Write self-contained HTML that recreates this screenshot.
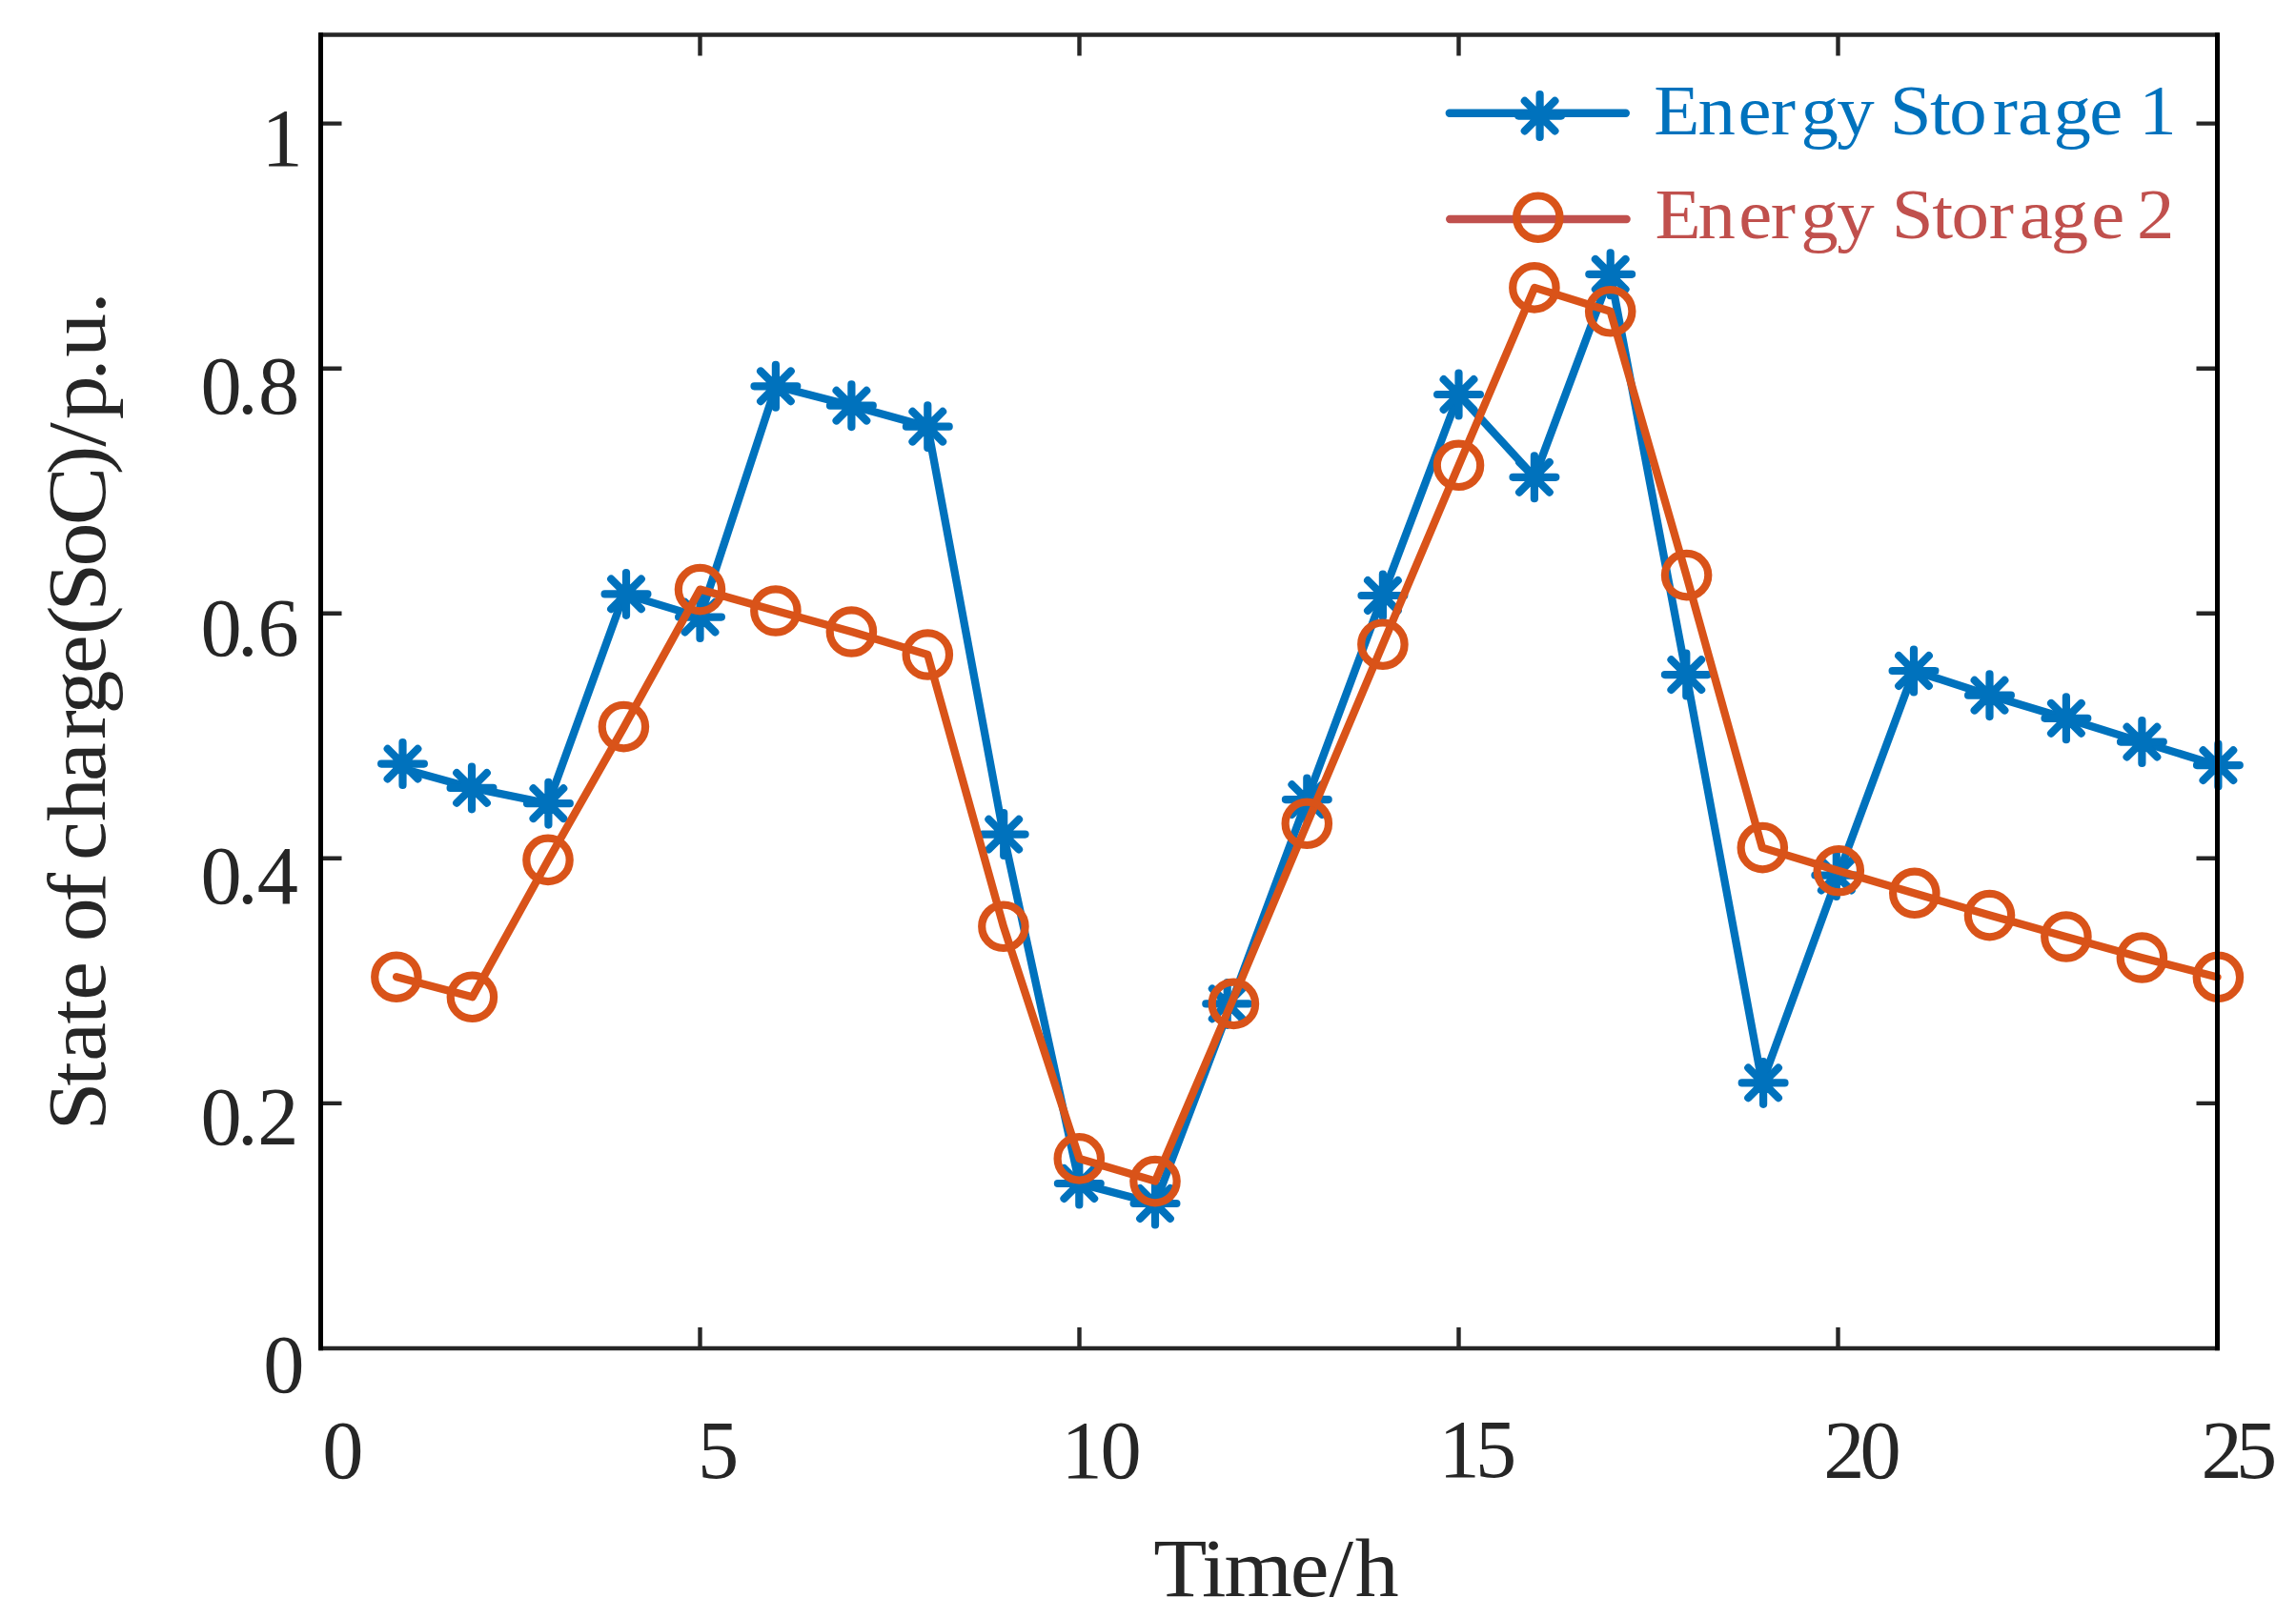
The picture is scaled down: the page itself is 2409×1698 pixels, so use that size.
<!DOCTYPE html>
<html lang="en"><head><meta charset="utf-8"><title>State of charge of energy storage</title>
<style>html,body{margin:0;padding:0;background:#fff}body{width:2409px;height:1698px;overflow:hidden}svg{display:block}text{font-family:"Liberation Serif", serif;fill:#262626}</style></head><body>
<svg width="2409" height="1698" viewBox="0 0 2409 1698">
<rect width="2409" height="1698" fill="#fff"/>
<path d="M734.5 1415V1393M734.5 36.5V58.5M1132.5 1415V1393M1132.5 36.5V58.5M1530.5 1415V1393M1530.5 36.5V58.5M1928.5 1415V1393M1928.5 36.5V58.5M336.5 1157.9H358.5M2326.5 1157.9H2304.5M336.5 900.8H358.5M2326.5 900.8H2304.5M336.5 643.8H358.5M2326.5 643.8H2304.5M336.5 386.7H358.5M2326.5 386.7H2304.5M336.5 129.6H358.5M2326.5 129.6H2304.5" stroke="#262626" stroke-width="4.4" fill="none"/>
<g fill="none" stroke="#0072BD" stroke-linejoin="round" stroke-linecap="round">
<polyline points="416.1,805 495.7,826.9 575.3,843.2 654.9,623.4 734.5,647.6 814.1,405.3 893.7,425.7 973.3,447.7 1052.9,875.6 1132.5,1242 1212.1,1263 1291.7,1053.4 1371.3,839.1 1450.9,625 1530.5,414 1610.1,500.8 1689.7,287.8 1769.3,708.1 1848.9,1136.4 1928.5,918.6 2008.1,704 2087.7,729.7 2167.3,753.8 2246.9,778.6 2326.5,803.1" stroke-width="8.3"/>
<path d="M400.1 801.6H444.9M422.5 779.2V824M406.7 785.8L438.3 817.4M406.7 817.4L438.3 785.8M472.6 826.9H517.4M495 804.5V849.3M479.2 811.1L510.8 842.7M479.2 842.7L510.8 811.1M553 843.2H597.8M575.4 820.8V865.6M559.6 827.4L591.2 859M559.6 859L591.2 827.4M634.6 623.4H679.4M657 601V645.8M641.2 607.6L672.8 639.2M641.2 639.2L672.8 607.6M712.1 647.6H756.9M734.5 625.2V670M718.7 631.8L750.3 663.4M718.7 663.4L750.3 631.8M791.5 405.3H836.3M813.9 382.9V427.7M798.1 389.5L829.7 421.1M798.1 421.1L829.7 389.5M871 425.7H915.8M893.4 403.3V448.1M877.6 409.9L909.2 441.5M877.6 441.5L909.2 409.9M950.9 447.7H995.7M973.3 425.3V470.1M957.5 431.9L989.1 463.5M957.5 463.5L989.1 431.9M1030.8 875.6H1075.6M1053.2 853.2V898M1037.4 859.8L1069 891.4M1037.4 891.4L1069 859.8M1109.9 1242H1154.7M1132.3 1219.6V1264.4M1116.5 1226.2L1148.1 1257.8M1116.5 1257.8L1148.1 1226.2M1189.6 1263H1234.4M1212 1240.6V1285.4M1196.2 1247.2L1227.8 1278.8M1196.2 1278.8L1227.8 1247.2M1265.3 1053.4H1310.1M1287.7 1031V1075.8M1271.9 1037.6L1303.5 1069.2M1271.9 1069.2L1303.5 1037.6M1348.9 839.1H1393.7M1371.3 816.7V861.5M1355.5 823.3L1387.1 854.9M1355.5 854.9L1387.1 823.3M1428.5 625H1473.3M1450.9 602.6V647.4M1435.1 609.2L1466.7 640.8M1435.1 640.8L1466.7 609.2M1508.1 414H1552.9M1530.5 391.6V436.4M1514.7 398.2L1546.3 429.8M1514.7 429.8L1546.3 398.2M1587.5 500.8H1632.3M1609.9 478.4V523.2M1594.1 485L1625.7 516.6M1594.1 516.6L1625.7 485M1667.3 287.8H1712.1M1689.7 265.4V310.2M1673.9 272L1705.5 303.6M1673.9 303.6L1705.5 272M1746.9 708.1H1791.7M1769.3 685.7V730.5M1753.5 692.3L1785.1 723.9M1753.5 723.9L1785.1 692.3M1827.7 1136.4H1872.5M1850.1 1114V1158.8M1834.3 1120.6L1865.9 1152.2M1834.3 1152.2L1865.9 1120.6M1904.4 918.6H1949.2M1926.8 896.2V941M1911 902.8L1942.6 934.4M1911 934.4L1942.6 902.8M1985.6 704H2030.4M2008 681.6V726.4M1992.2 688.2L2023.8 719.8M1992.2 719.8L2023.8 688.2M2065.1 729.7H2109.9M2087.5 707.3V752.1M2071.7 713.9L2103.3 745.5M2071.7 745.5L2103.3 713.9M2145.5 753.8H2190.3M2167.9 731.4V776.2M2152.1 738L2183.7 769.6M2152.1 769.6L2183.7 738M2225 778.6H2269.8M2247.4 756.2V801M2231.6 762.8L2263.2 794.4M2231.6 794.4L2263.2 762.8M2305 803.1H2349.8M2327.4 780.7V825.5M2311.6 787.3L2343.2 818.9M2311.6 818.9L2343.2 787.3" stroke-width="8.2"/>
</g>
<g fill="none" stroke="#D95319" stroke-linejoin="round" stroke-linecap="round">
<polyline points="416.1,1025.2 495.7,1046.3 575.3,902.4 654.9,762.6 734.5,618.6 814.1,641 893.7,663 973.3,687 1052.9,972.3 1132.5,1215.9 1212.1,1239.6 1291.7,1053.4 1371.3,864.3 1450.9,676.2 1530.5,488.3 1610.1,301.9 1689.7,326.8 1769.3,603.6 1848.9,889.6 1928.5,913.7 2008.1,937.3 2087.7,960.6 2167.3,983 2246.9,1005 2326.5,1025.4" stroke-width="8.3"/>
<circle cx="415.9" cy="1025.2" r="22.7" stroke-width="8.2"/>
<circle cx="495.4" cy="1046.3" r="22.7" stroke-width="8.2"/>
<circle cx="575" cy="902.4" r="22.7" stroke-width="8.2"/>
<circle cx="654.4" cy="762.6" r="22.7" stroke-width="8.2"/>
<circle cx="734.5" cy="618.6" r="22.7" stroke-width="8.2"/>
<circle cx="813.9" cy="641" r="22.7" stroke-width="8.2"/>
<circle cx="893.4" cy="663" r="22.7" stroke-width="8.2"/>
<circle cx="973.3" cy="687" r="22.7" stroke-width="8.2"/>
<circle cx="1052.9" cy="972.3" r="22.7" stroke-width="8.2"/>
<circle cx="1132.3" cy="1215.9" r="22.7" stroke-width="8.2"/>
<circle cx="1212" cy="1239.6" r="22.7" stroke-width="8.2"/>
<circle cx="1294.4" cy="1053.4" r="22.7" stroke-width="8.2"/>
<circle cx="1371.3" cy="864.3" r="22.7" stroke-width="8.2"/>
<circle cx="1450.9" cy="676.2" r="22.7" stroke-width="8.2"/>
<circle cx="1530.5" cy="488.3" r="22.7" stroke-width="8.2"/>
<circle cx="1609.9" cy="301.9" r="22.7" stroke-width="8.2"/>
<circle cx="1689.7" cy="326.8" r="22.7" stroke-width="8.2"/>
<circle cx="1769.6" cy="603.6" r="22.7" stroke-width="8.2"/>
<circle cx="1849.3" cy="889.6" r="22.7" stroke-width="8.2"/>
<circle cx="1929.3" cy="913.7" r="22.7" stroke-width="8.2"/>
<circle cx="2008.8" cy="937.3" r="22.7" stroke-width="8.2"/>
<circle cx="2087.5" cy="960.6" r="22.7" stroke-width="8.2"/>
<circle cx="2167.9" cy="983" r="22.7" stroke-width="8.2"/>
<circle cx="2247.4" cy="1005" r="22.7" stroke-width="8.2"/>
<circle cx="2327.4" cy="1025.4" r="22.7" stroke-width="8.2"/>
</g>
<path d="M334.5 36.5H2328.5M334.5 1415H2328.5" stroke="#262626" stroke-width="4.4" fill="none"/>
<path d="M336.5 34.3V1417.2M2326.5 34.3V1417.2" stroke="#000" stroke-width="5" fill="none"/>
<g fill="none" stroke-linecap="round">
<path d="M1520.8 118.8H1705.8" stroke="#0072BD" stroke-width="8.4"/>
<path d="M1593.2 121.6H1638M1615.6 99.2V144M1599.8 105.8L1631.4 137.4M1599.8 137.4L1631.4 105.8" stroke="#0072BD" stroke-width="8.2"/>
<path d="M1521.2 230H1706.6" stroke="#C0504D" stroke-width="8.4"/>
<circle cx="1613.8" cy="228.2" r="22.7" stroke="#D95319" stroke-width="8.2"/>
</g>
<text transform="translate(0 141) scale(1.06 1)" x="1637.1 1680.7 1720.2 1752.7 1782.6 1818.1 1855.3 1870.5 1910.4 1929.5 1972.4 1997.2 2032.5 2068.1 2101.2 2117.3" y="0" font-size="74.4" style="fill:#0072BD">Energy Storage 1</text>
<text transform="translate(0 250.2) scale(1.06 1)" x="1638.1 1680.7 1721.1 1752.5 1782.3 1818.1 1855.3 1872.5 1912.4 1931.6 1968.7 1998.9 2029.9 2070 2103 2115" y="0" font-size="74.4" style="fill:#C0504D">Energy Storage 2</text>
<text x="274.6" y="174" font-size="86.4">1</text>
<text x="210.4 249.1 270.9" y="434" font-size="86.4">0.8</text>
<text x="210.4 249.1 270.4" y="688.1" font-size="86.4">0.6</text>
<text x="210.4 249.1 269.8" y="947.6" font-size="86.4">0.4</text>
<text x="210.4 249.1 270.3" y="1200.6" font-size="86.4">0.2</text>
<text x="276.3" y="1461.2" font-size="86.4">0</text>
<text x="338.3" y="1551.2" font-size="86.4">0</text>
<text x="732" y="1550.8" font-size="86.4">5</text>
<text x="1113.6 1154.5" y="1550.8" font-size="86.4">10</text>
<text x="1509.5 1548" y="1550.4" font-size="86.4">15</text>
<text x="1913.3 1951.5" y="1550.8" font-size="86.4">20</text>
<text x="2309.4 2346.1" y="1550.8" font-size="86.4">25</text>
<text transform="translate(0 1675) scale(1.05 1)" x="1152.7 1201 1223.4 1289.4 1328 1354" y="0" font-size="87.4">Time/h</text>
<text transform="translate(110.3 0) rotate(-90) scale(1.05 1)" x="-1130.1 -1085.4 -1060.6 -1023.6 -999.7 -960.9 -941.2 -901.5 -872.4 -860 -821 -781 -738.9 -713.9 -673.3 -634.4 -611.1 -566.2 -525.1 -474.5 -446.5 -419.2 -380.4 -356.8 -313.7" y="0" font-size="87.4">State of charge(SoC)/p.u.</text>
</svg></body></html>
